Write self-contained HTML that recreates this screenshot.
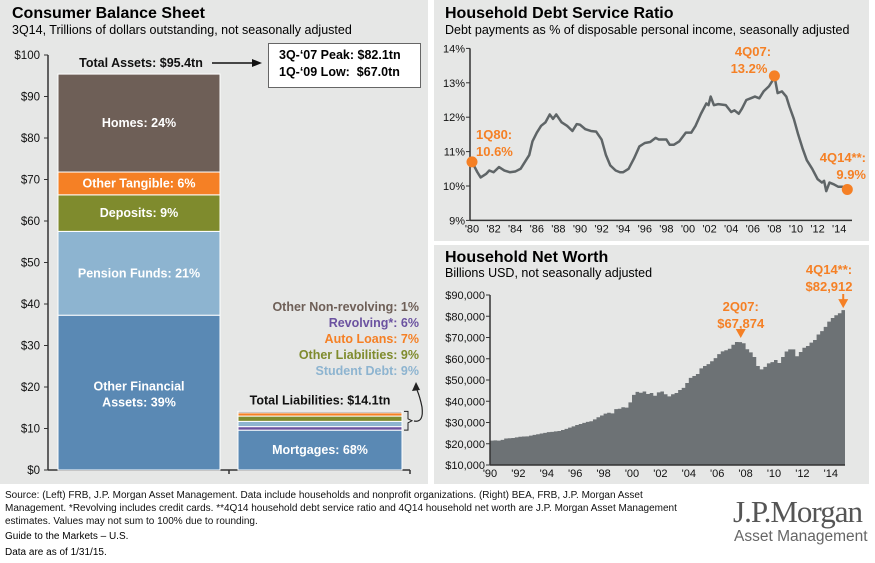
<!DOCTYPE html>
<html><head><meta charset="utf-8">
<style>
body{margin:0;width:875px;height:563px;background:#fff;font-family:"Liberation Sans",sans-serif;overflow:hidden;position:relative}
.panel{position:absolute;background:#e6e7e6}
.t{position:absolute;white-space:nowrap}
svg{position:absolute;left:0;top:0}
</style></head><body>
<div class="panel" style="left:0;top:0;width:428px;height:484px"></div>
<div class="panel" style="left:434px;top:0;width:435px;height:241px"></div>
<div class="panel" style="left:434px;top:245px;width:435px;height:239px"></div>

<div class="t" style="left:12px;top:5px;font-size:16px;font-weight:bold">Consumer Balance Sheet</div>
<div class="t" style="left:12px;top:23px;font-size:12.5px">3Q14, Trillions of dollars outstanding, not seasonally adjusted</div>
<div class="t" style="left:445px;top:5px;font-size:16px;font-weight:bold">Household Debt Service Ratio</div>
<div class="t" style="left:445px;top:23px;font-size:12.5px">Debt payments as % of disposable personal income, seasonally adjusted</div>
<div class="t" style="left:445px;top:249px;font-size:16px;font-weight:bold">Household Net Worth</div>
<div class="t" style="left:445px;top:266px;font-size:12.5px">Billions USD, not seasonally adjusted</div>

<div class="t" style="left:268px;top:43px;background:#fff;border:1.5px solid #666;font-size:12.5px;font-weight:bold;line-height:17px;padding:3px 0 0 10px;box-sizing:border-box;height:45px;width:153px">3Q-‘07 Peak: $82.1tn<br>1Q-‘09 Low:&nbsp; $67.0tn</div>

<svg id="chart" width="875" height="563"></svg>

<div class="t" style="left:5px;top:489px;font-size:10px;line-height:13px;color:#111">Source: (Left) FRB, J.P. Morgan Asset Management. Data include households and nonprofit organizations. (Right) BEA, FRB, J.P. Morgan Asset<br>Management. *Revolving includes credit cards. **4Q14 household debt service ratio and 4Q14 household net worth are J.P. Morgan Asset Management<br>estimates. Values may not sum to 100% due to rounding.</div>
<div class="t" style="left:5px;top:531px;font-size:10px">Guide to the Markets – U.S.</div>
<div class="t" style="left:5px;top:547px;font-size:10px">Data are as of 1/31/15.</div>
<div class="t" style="left:733px;top:494px;font-family:'Liberation Serif',serif;font-size:31px;color:#555;letter-spacing:-1px">J.P.Morgan</div>
<div class="t" style="left:734px;top:528px;font-size:15.5px;color:#666">Asset Management</div>

<script>
// Left: balance sheet ($tn)
const assetNames=["Other Financial Assets: 39%","Pension Funds: 21%","Deposits: 9%","Other Tangible: 6%","Homes: 24%"];
const assetVals=[37.3,20.2,8.8,5.5,23.6];
const assetColors=["#5a89b4","#8db4d0","#7f8b2d","#f58025","#6e5f57"];
const liabNames=["Mortgages","Revolving","Student Debt","Other Liabilities","Auto Loans","Other Non-revolving"];
const liabVals=[9.6,0.85,1.27,1.27,1.0,0.14];
const liabColors=["#5a89b4","#6b52a0","#8db4d0","#7f8b2d","#f58025","#6e5f57"];
const leftTicks=[0,10,20,30,40,50,60,70,80,90,100];
// DSR
const dsrYears=[1980.0,1980.5,1980.8,1981.3,1981.6,1982.0,1982.5,1983.0,1983.5,1984.0,1984.5,1985.0,1985.3,1985.6,1986.0,1986.4,1986.8,1987.2,1987.5,1987.8,1988.3,1988.8,1989.3,1989.7,1990.0,1990.5,1991.0,1991.5,1992.0,1992.4,1992.8,1993.3,1993.7,1994.0,1994.5,1995.0,1995.5,1996.0,1996.5,1997.0,1997.3,1998.0,1998.3,1998.7,1999.2,1999.8,2000.3,2000.7,2001.2,2001.7,2001.9,2002.1,2002.4,2002.8,2003.5,2004.0,2004.3,2004.7,2005.0,2005.4,2005.8,2006.2,2006.6,2007.0,2007.5,2007.8,2008.0,2008.3,2008.7,2009.1,2009.4,2009.8,2010.2,2010.6,2011.0,2011.5,2012.0,2012.4,2012.6,2012.8,2013.1,2013.5,2013.9,2014.3,2014.75];
const dsrVals=[10.7,10.4,10.25,10.35,10.45,10.4,10.55,10.45,10.4,10.42,10.5,10.75,10.9,11.3,11.55,11.75,11.85,12.08,11.95,12.08,11.85,11.75,11.6,11.8,11.78,11.65,11.6,11.58,11.35,10.9,10.6,10.45,10.4,10.4,10.5,10.8,11.15,11.25,11.28,11.4,11.35,11.35,11.2,11.2,11.3,11.55,11.55,11.75,12.1,12.4,12.35,12.6,12.35,12.38,12.35,12.15,12.2,12.1,12.25,12.5,12.55,12.6,12.55,12.75,12.9,13.05,13.2,12.7,12.75,12.6,12.3,11.95,11.5,11.1,10.75,10.5,10.2,10.1,10.15,9.85,10.1,10.05,9.98,9.98,9.9];
const dsrTicks=[9,10,11,12,13,14];
const dsrXLabels=["'80","'82","'84","'86","'88","'90","'92","'94","'96","'98","'00","'02","'04","'06","'08","'10","'12","'14"];
// Net worth quarterly from 1Q90 ($bn thousands)
const nwVals=[21.5,21.6,21.5,21.8,22.5,22.6,22.7,23.0,23.3,23.4,23.5,23.8,24.2,24.5,24.8,25.1,25.5,25.6,25.8,26.0,26.5,27.0,27.6,28.2,28.8,29.3,29.8,30.3,30.6,31.5,32.5,33.3,34.2,34.6,34.3,36.3,36.5,37.2,37.0,39.5,43.0,44.4,44.0,44.6,43.4,43.9,42.6,44.2,44.6,43.3,42.3,43.3,43.9,45.3,46.3,48.6,51.0,51.9,52.8,55.5,56.6,57.5,58.8,60.3,62.2,63.5,64.0,64.7,66.6,67.9,67.8,67.3,64.5,63.0,60.8,56.6,55.0,56.2,57.8,58.4,59.4,58.0,60.8,63.4,64.4,64.4,61.2,63.2,65.2,66.0,67.6,68.8,71.4,73.0,75.0,77.5,79.2,80.5,81.4,82.9];
const nwTicks=[10,20,30,40,50,60,70,80,90];
const nwXLabels=["'90","'92","'94","'96","'98","'00","'02","'04","'06","'08","'10","'12","'14"];

const svg=document.getElementById('chart');
const NS="http://www.w3.org/2000/svg";
function mk(tag,attrs,parent){const e=document.createElementNS(NS,tag);for(const k in attrs)e.setAttribute(k,attrs[k]);(parent||svg).appendChild(e);return e;}
function txt(s,attrs){const e=mk('text',attrs);e.textContent=s;return e;}

// ---- Left chart
const ly=v=>470-v*4.15;
mk('line',{x1:48,y1:ly(100),x2:48,y2:470,stroke:'#333','stroke-width':1.5});
mk('line',{x1:48,y1:470,x2:410,y2:470,stroke:'#333','stroke-width':1.5});
[229,410].forEach(x=>mk('line',{x1:x,y1:470,x2:x,y2:474,stroke:'#333','stroke-width':1.5}));
leftTicks.forEach(t=>{
  mk('line',{x1:44,y1:ly(t),x2:48,y2:ly(t),stroke:'#333'});
  const e=txt('$'+t,{x:40,y:ly(t)+4,'text-anchor':'end','font-size':11.5,fill:'#111'});
  
  
});
let cum=0;
assetVals.forEach((v,i)=>{
  const r=mk('rect',{x:58,y:ly(cum+v),width:162,height:v*4.15,fill:assetColors[i],stroke:'#fff','stroke-width':1});
  
  
  cum+=v;
});
const aMid=i=>{let s=0;for(let j=0;j<i;j++)s+=assetVals[j];return ly(s+assetVals[i]/2);};
function lbl(s,x,y,c,anchor){const e=txt(s,{x:x,y:y,'text-anchor':anchor||'middle','font-size':12.5,'font-weight':'bold',fill:c});return e;}
lbl("Other Financial",139,aMid(0)-2,'#fff');lbl("Assets: 39%",139,aMid(0)+14,'#fff');
for(let i=1;i<5;i++)lbl(assetNames[i],139,aMid(i)+4,'#fff');
lbl("Total Assets: $95.4tn",141,ly(100)+12,'#111');
mk('line',{x1:212,y1:ly(100)+8,x2:252,y2:ly(100)+8,stroke:'#111','stroke-width':1.5});
mk('path',{d:`M262 ${ly(100)+8} l-10 -4 v8z`,fill:'#111'});
cum=0;
liabVals.forEach((v,i)=>{
  const h=Math.max(v*4.15,1.5);
  const r=mk('rect',{x:238,y:ly(cum+v),width:164,height:h,fill:liabColors[i],stroke:'#fff','stroke-width':1});
  
  
  cum+=v;
});
lbl("Mortgages: 68%",320,ly(liabVals[0]/2)+4,'#fff');
lbl("Total Liabilities: $14.1tn",320,ly(cum)-7,'#111');
[["Other Non-revolving: 1%","#6e5f57"],["Revolving*: 6%","#6b52a0"],["Auto Loans: 7%","#f58025"],["Other Liabilities: 9%","#7f8b2d"],["Student Debt: 9%","#8db4d0"]].forEach((a,i)=>lbl(a[0],419,311+i*16,a[1],'end'));
mk('path',{d:`M404 ${ly(cum)} h4 v${(cum-liabVals[0])*4.15/2-2} l4 2 l-4 2 V${ly(liabVals[0])} h-4`,fill:'none',stroke:'#222','stroke-width':1});
mk('path',{d:'M414 421 q10 2 8 -14 q-2 -10 -5 -17',fill:'none',stroke:'#222','stroke-width':1.2});
mk('path',{d:'M416 382 l-4 9 l8 -1z',fill:'#222'});

// ---- DSR chart
const dx=y=>472+(y-1980)*10.8, dy=v=>186-(v-10)*34.4;
mk('line',{x1:470,y1:dy(14),x2:470,y2:dy(9),stroke:'#333','stroke-width':1.5});
mk('line',{x1:470,y1:dy(9),x2:852,y2:dy(9),stroke:'#333','stroke-width':1.5});
dsrTicks.forEach(t=>{
  mk('line',{x1:466,y1:dy(t),x2:470,y2:dy(t),stroke:'#333'});
  const e=txt(t+'%',{x:465,y:dy(t)+4,'text-anchor':'end','font-size':11,fill:'#111'});
  
  
});
dsrXLabels.forEach((l,i)=>{
  const e=txt(l,{x:dx(1980+i*2),y:dy(9)+12,'text-anchor':'middle','font-size':11,fill:'#111'});
  
  
});
const dl=mk('polyline',{points:dsrYears.map((y,i)=>dx(y)+','+dy(dsrVals[i])).join(' '),fill:'none',stroke:'#5f6567','stroke-width':2.5,'stroke-linejoin':'round'});


[0,dsrVals.indexOf(Math.max(...dsrVals)),dsrVals.length-1].forEach(i=>{
  const c=mk('circle',{cx:dx(dsrYears[i]),cy:dy(dsrVals[i]),r:5.5,fill:'#f58025'});
  
  
});
function olbl(s,x,y,anchor){const e=txt(s,{x:x,y:y,'text-anchor':anchor||'middle','font-size':13,'font-weight':'bold',fill:'#f58025'});}
olbl("1Q80:",476,139,'start');olbl("10.6%",476,156,'start');
olbl("4Q07:",753,56);olbl("13.2%",749,73);
olbl("4Q14**:",866,162,'end');olbl("9.9%",866,179,'end');

// ---- Net worth chart
const nx=q=>490+q*14.2/4, ny=v=>465-(v-10)*2.125;
let d=`M${nx(0)} ${ny(10)}`;
nwVals.forEach((v,i)=>{d+=` V${ny(v)} H${nx(i+1)}`;});
d+=` V${ny(10)} Z`;
const area=mk('path',{d:d,fill:'#6d7275',stroke:'none'});


mk('line',{x1:490,y1:ny(90),x2:490,y2:ny(10),stroke:'#333','stroke-width':1.5});
mk('line',{x1:490,y1:ny(10),x2:845,y2:ny(10),stroke:'#333','stroke-width':1.5});
nwTicks.forEach(t=>{
  mk('line',{x1:486,y1:ny(t),x2:490,y2:ny(t),stroke:'#333'});
  const e=txt('$'+t+',000',{x:485,y:ny(t)+4,'text-anchor':'end','font-size':11,fill:'#111'});
  
  
});
nwXLabels.forEach((l,i)=>{
  const e=txt(l,{x:nx(i*8),y:ny(10)+12,'text-anchor':'middle','font-size':11,fill:'#111'});
  
  
});
const pk=nwVals.indexOf(Math.max(...nwVals.slice(0,80)));
const px=nx(pk+0.5)+4;
olbl("2Q07:",px,311);olbl("$67,874",px,328);
mk('line',{x1:px,y1:333,x2:px,y2:ny(nwVals[pk])-12,stroke:'#f58025','stroke-width':2});
mk('path',{d:`M${px-5} ${ny(nwVals[pk])-13} h10 l-5 9z`,fill:'#f58025'});
const lx=nx(nwVals.length-0.5);
olbl("4Q14**:",829,274);olbl("$82,912",829,291);
mk('line',{x1:lx,y1:294,x2:lx,y2:ny(nwVals[nwVals.length-1])-10,stroke:'#f58025','stroke-width':2});
mk('path',{d:`M${lx-5} ${ny(nwVals[nwVals.length-1])-11} h10 l-5 9z`,fill:'#f58025'});
</script>
</body></html>
